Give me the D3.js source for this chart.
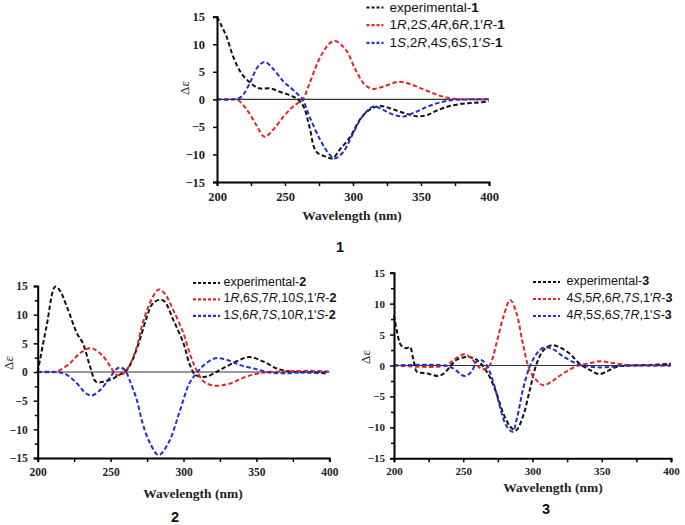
<!DOCTYPE html>
<html><head><meta charset="utf-8">
<script src="https://cdn.jsdelivr.net/npm/d3@7"></script>
<style>body{margin:0;background:#fff}svg{display:block}
.serif{font-family:"Liberation Serif","Times New Roman",serif}
.sans{font-family:"Liberation Sans",Arial,sans-serif}</style>
</head><body>
<script>
// ---- data: [wavelength (nm), Δε] ----
const exp1 = [[200,15],[203,13.5],[207,11.4],[212,7.7],[218,4.7],[225,2.9],[231,2],[239,2],[246,1.4],[252,0.9],[256,0.5],[260,-0.1],[264,-1.5],[268,-5],[273,-9.5],[280,-10.4],[285,-10.7],[290,-9.2],[298,-6.8],[305,-3.7],[312,-1.9],[320,-1.2],[327,-1.6],[334,-2.2],[342,-2.8],[348,-3.1],[355,-2.8],[362,-2],[370,-1.3],[380,-0.8],[390,-0.6],[400,-0.4]];
const calcR1 = [[200,0],[210,0],[215,-0.1],[222,-1.9],[229,-4.7],[235,-6.8],[241,-5.6],[249,-3.1],[256,-1.3],[263,0],[268,2.9],[276,7.7],[283,10.2],[287,10.6],[295,8.9],[302,5.3],[309,2.6],[315,1.9],[322,2.3],[334,3.2],[344,2.6],[350,2],[358,1.2],[366,0.5],[375,0.1],[385,0],[400,0]];
const calcS1 = [[200,0],[212,0],[218,0.5],[224,2.9],[230,5.9],[235,6.8],[241,5.6],[249,3.2],[256,1.7],[263,-0.1],[268,-3.1],[276,-7.4],[283,-10.1],[287,-10.7],[293,-9.5],[300,-6.2],[307,-3.1],[315,-1.3],[322,-1.9],[330,-2.8],[337,-3.1],[347,-2.2],[355,-1.3],[365,-0.5],[375,-0.1],[385,0],[400,0]];

const exp2 = [[200,0],[206,7.9],[212,14.9],[215,14.3],[220,11.4],[227,6.7],[231,5],[236,0.9],[240,-1.7],[245,-1.7],[252,-1.1],[256,-0.5],[261,0.3],[265,2.1],[270,5.6],[275,9.7],[279,12],[284,12.6],[287,12.3],[293,9.1],[300,5],[304,1.5],[308,-0.5],[312,-0.8],[316,-0.8],[325,0.35],[336,1.8],[345,2.6],[355,1.8],[364,0.6],[373,0.1],[385,-0.1],[398,-0.2]];
const calcR2 = [[200,0],[212,0],[215,0.3],[222,1.5],[229,3.3],[236,4.2],[240,3.8],[245,2.7],[250,0.9],[254,-0.5],[258,-0.4],[263,1.2],[268,4.4],[272,8.5],[278,12.6],[283,14.4],[287,13.7],[293,10.8],[300,6.7],[305,2.7],[309,0.3],[314,-1.7],[322,-2.4],[332,-2],[343,-0.8],[355,-0.1],[370,0.1],[385,0.2],[400,0.1]];
const calcS2 = [[200,0],[213,0],[220,-0.5],[227,-2],[233,-3.7],[237,-4.1],[243,-3.1],[250,-0.8],[254,0.5],[256.5,0.8],[260,0.3],[263,-1.4],[268,-4.9],[272,-9],[277,-12.4],[283,-14.5],[290,-12.2],[297,-7.2],[304,-2],[309,-0.2],[314,1.2],[322,2.4],[330,2.1],[339,1.2],[350,0.5],[359,-0.1],[371,-0.2],[385,0],[400,0]];

const exp3 = [[200,8.1],[202,5.7],[205,3.3],[209,2.8],[211.5,3],[214,0.9],[216.5,-1],[221,-1.2],[226,-1.4],[232,-1.7],[236,-1.3],[240.5,-0.2],[245,0.9],[250,1.3],[256,1.3],[261,0.7],[264.5,-0.2],[269,-1.8],[274,-4.5],[279,-7.8],[284,-9.9],[288,-10.5],[293,-8.3],[298,-4],[303,0.3],[308,2.5],[314,3.3],[320,2.9],[327,1.9],[334,0.3],[342,-0.8],[348,-1.4],[354,-0.9],[361,-0.2],[370,0],[385,0.1],[400,0.3]];
const calcR3 = [[200,0],[238,0],[243,0.9],[251,1.8],[256,1.1],[261,-0.2],[264.5,-0.6],[269,0],[274,3.6],[279,7.9],[284,10.6],[288.5,8.4],[293,3.6],[298,-0.8],[303,-2.4],[308,-3.2],[315,-2.4],[322,-1.3],[332,-0.1],[342,0.4],[349,0.7],[358,0.4],[370,0.05],[385,0],[400,0]];
const calcS3 = [[200,0],[237,0],[243,-0.5],[251,-1.7],[256,-1],[259.5,0.6],[263,0.9],[267,0],[272,-2.9],[276.5,-6.7],[281,-9.7],[285.5,-10.7],[289,-8.3],[293,-4],[298,-0.2],[303,1.9],[308,2.9],[315,2.6],[322,1.5],[332,0.3],[342,-0.2],[351,-0.3],[361,-0.1],[372,0],[400,0]];

const xTicks = [200, 250, 300, 350, 400];
const yTicks = [-15, -10, -5, 0, 5, 10, 15];
const legend1 = [["experimental-","1"], ["1<i>R</i>,2<i>S</i>,4<i>R</i>,6<i>R</i>,1′<i>R</i>-","1"], ["1<i>S</i>,2<i>R</i>,4<i>S</i>,6<i>S</i>,1′<i>S</i>-","1"]];
const legend2 = [["experimental-","2"], ["1<i>R</i>,6<i>S</i>,7<i>R</i>,10<i>S</i>,1′<i>R</i>-","2"], ["1<i>S</i>,6<i>R</i>,7<i>S</i>,10<i>R</i>,1′<i>S</i>-","2"]];
const legend3 = [["experimental-","3"], ["4<i>S</i>,5<i>R</i>,6<i>R</i>,7<i>S</i>,1′<i>R</i>-","3"], ["4<i>R</i>,5<i>S</i>,6<i>S</i>,7<i>R</i>,1′<i>S</i>-","3"]];
const colors = ["#111111", "#e3262b", "#2330c8"];

const svg = d3.select("body").append("svg").attr("width", 685).attr("height", 525);

function panel(cfg) {
  const x = d3.scaleLinear().domain([200, 400]).range([cfg.x0, cfg.x1]);
  const y = d3.scaleLinear().domain([-15, 15]).range([cfg.yb, cfg.yt]);
  const g = svg.append("g");
  g.append("line").attr("x1", x(200)).attr("x2", x(400)).attr("y1", y(0)).attr("y2", y(0))
    .attr("stroke", "#333").attr("stroke-width", 1.2);
  const line = d3.line().x(d => x(d[0])).y(d => y(d[1])).curve(d3.curveCatmullRom.alpha(0.5));
  cfg.series.forEach((s, i) => {
    g.append("path").attr("d", line(s)).attr("fill", "none").attr("stroke", colors[i])
      .attr("stroke-width", 2).attr("stroke-dasharray", "4.5,2.5");
  });
  g.append("g").attr("transform", `translate(${cfg.x0},0)`)
    .call(d3.axisLeft(y).tickValues(yTicks).tickSize(4).tickPadding(cfg.ypad).tickFormat(d3.format("d")));
  if (cfg.minor) {
    g.append("g").attr("transform", `translate(${cfg.x0},0)`)
      .call(d3.axisLeft(y).tickValues(d3.range(-12.5, 15, 5)).tickSize(3).tickFormat(""))
      .select(".domain").remove();
  }
  g.append("g").attr("transform", `translate(0,${cfg.yb})`)
    .call(d3.axisBottom(x).tickValues(xTicks).tickSize(4).tickPadding(cfg.xpad).tickFormat(d3.format("d")));
  g.append("g").attr("transform", `translate(0,${cfg.yb})`)
    .call(d3.axisBottom(x).tickValues([225, 275, 325, 375]).tickSize(4).tickFormat(""))
    .select(".domain").remove();
  g.selectAll(".domain").attr("stroke", "#000").attr("stroke-width", 2);
  g.selectAll(".tick line").attr("stroke", "#000").attr("stroke-width", 1.5);
  g.selectAll(".tick text").attr("class", "serif").attr("font-family", null)
    .style("font-family", '"Liberation Serif","Times New Roman",serif')
    .style("font-weight", "bold").style("font-size", cfg.tfs + "px").attr("fill", "#222");
  g.append("text").attr("class", "serif").attr("x", cfg.dex).attr("y", cfg.dey)
    .attr("transform", `rotate(-90,${cfg.dex},${cfg.dey})`)
    .attr("text-anchor", "middle").attr("dominant-baseline", "middle")
    .style("font-size", "13px").attr("fill", "#222").text("Δε");
  g.append("text").attr("class", "serif").attr("x", cfg.wx).attr("y", cfg.wy)
    .attr("text-anchor", "middle").attr("dominant-baseline", "middle")
    .style("font-weight", "bold").style("font-size", "13.5px").attr("fill", "#222").text("Wavelength (nm)");
  g.append("text").attr("class", "sans").attr("x", cfg.nx).attr("y", cfg.ny)
    .attr("text-anchor", "middle").attr("dominant-baseline", "middle")
    .style("font-weight", "bold").style("font-size", "14.5px").attr("fill", "#111").text(cfg.num);
  cfg.legend.forEach((l, i) => {
    const ly = cfg.ly + i * cfg.ldy;
    g.append("line").attr("x1", cfg.lx).attr("x2", cfg.lx + cfg.llen).attr("y1", ly).attr("y2", ly)
      .attr("stroke", colors[i]).attr("stroke-width", 2.2).attr("stroke-dasharray", "3,2");
    const t = g.append("text").attr("class", "sans").attr("x", cfg.lx + cfg.llen + cfg.lgap).attr("y", ly)
      .attr("dominant-baseline", "middle").style("font-size", cfg.lfs + "px").attr("fill", "#111");
    const parts = l[0].split(/(<i>.*?<\/i>)/).filter(p => p.length);
    parts.forEach(p => {
      if (p.startsWith("<i>")) t.append("tspan").style("font-style", "italic").text(p.replace(/<\/?i>/g, ""));
      else t.append("tspan").text(p);
    });
    t.append("tspan").style("font-weight", "bold").text(l[1]);
  });
}

panel({x0: 217, x1: 489, yt: 16.7, yb: 182, series: [exp1, calcR1, calcS1], minor: false,
  ypad: 8, xpad: 6, tfs: 12.5, dex: 186, dey: 88, wx: 352, wy: 217, nx: 340, ny: 248, num: "1",
  legend: legend1, lx: 366.5, ly: 7.5, ldy: 17.7, llen: 17, lgap: 6, lfs: 13.5});
panel({x0: 37.7, x1: 329.3, yt: 286, yb: 458, series: [exp2, calcR2, calcS2], minor: true,
  ypad: 6, xpad: 6, tfs: 11.5, dex: 10, dey: 363, wx: 193, wy: 495, nx: 175, ny: 518, num: "2",
  legend: legend2, lx: 193, ly: 283, ldy: 16.4, llen: 27, lgap: 3.5, lfs: 12.5});
panel({x0: 394, x1: 671, yt: 272.7, yb: 458.3, series: [exp3, calcR3, calcS3], minor: true,
  ypad: 5, xpad: 5, tfs: 11, dex: 367, dey: 357, wx: 553, wy: 489, nx: 546, ny: 510, num: "3",
  legend: legend3, lx: 533, ly: 282, ldy: 17, llen: 27, lgap: 6.5, lfs: 12.5});
</script>
</body></html>
